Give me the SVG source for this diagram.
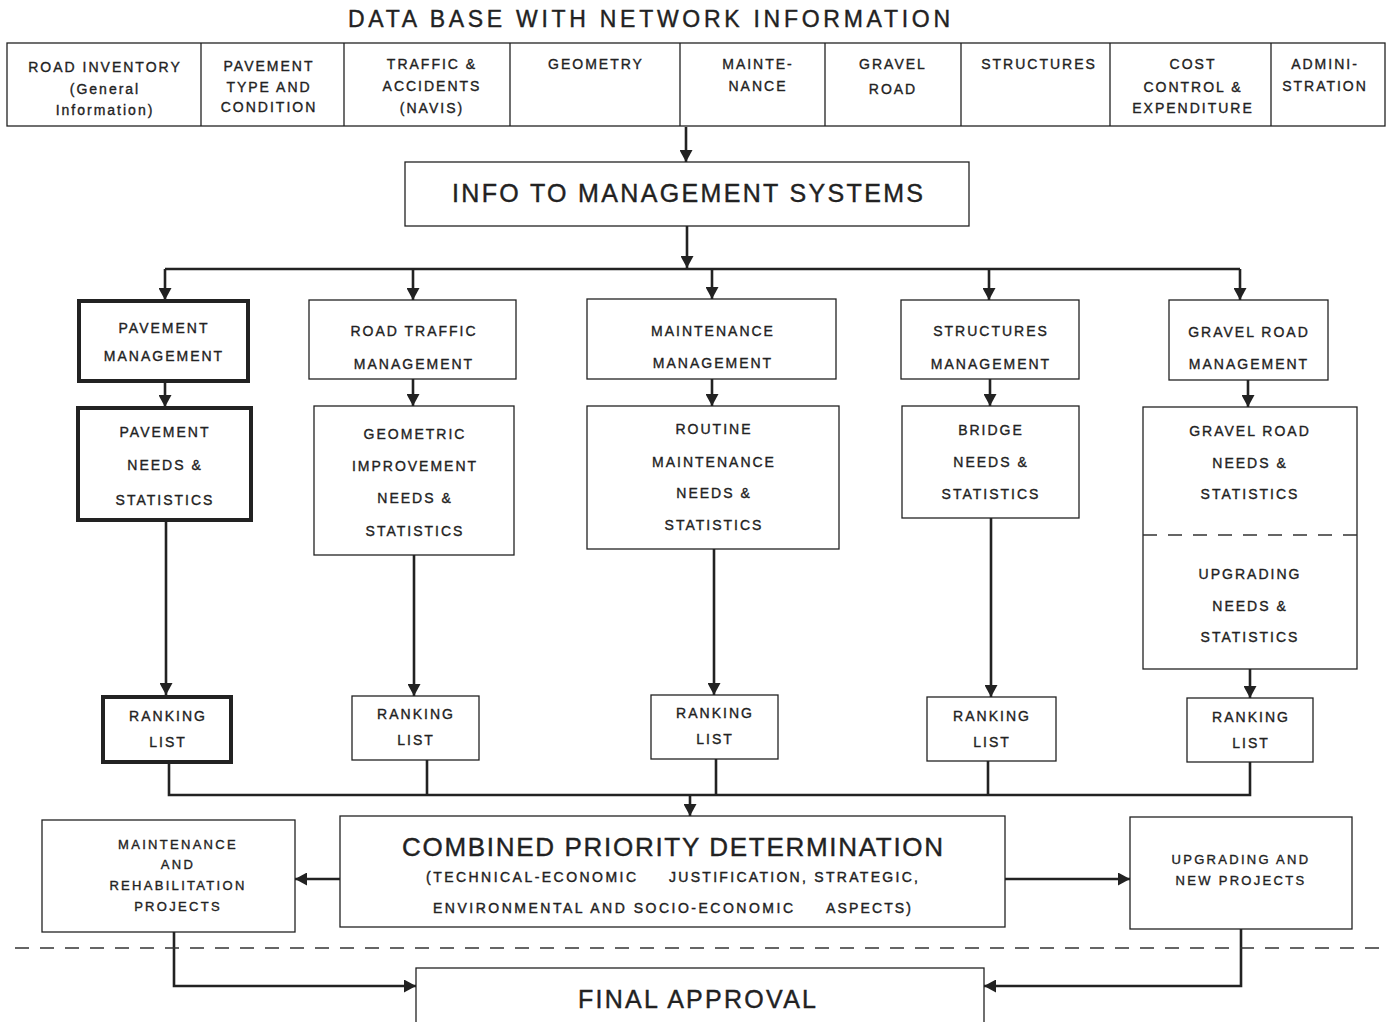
<svg xmlns="http://www.w3.org/2000/svg" width="1391" height="1022" viewBox="0 0 1391 1022">
  <style>
    .box { fill: #fff; stroke: #222; stroke-width: 1.3; }
    .thick { fill: #fff; stroke: #222; stroke-width: 4; }
    .t { font-family: "Liberation Sans", Arial, sans-serif; font-size: 14px; letter-spacing: 2px; fill: #222; stroke: #222; stroke-width: 0.35; text-anchor: middle; }
    .s { font-family: "Liberation Sans", Arial, sans-serif; font-size: 13px; letter-spacing: 2.3px; fill: #222; stroke: #222; stroke-width: 0.35; text-anchor: middle; }
    .big { font-family: "Liberation Sans", Arial, sans-serif; fill: #222; stroke: #222; stroke-width: 0.4; }
    .con { fill: none; stroke: #222; stroke-width: 2.6; }
    .arr { fill: none; stroke: #222; stroke-width: 2.6; marker-end: url(#head); }
    .dash { fill: none; stroke: #333; stroke-width: 1.3; stroke-dasharray: 14 11; }
  </style>
  <defs>
    <marker id="head" markerUnits="userSpaceOnUse" markerWidth="13" markerHeight="13" refX="12" refY="6.5" orient="auto">
      <path d="M0,0 L12,6.5 L0,13 z" fill="#222"/>
    </marker>
  </defs>
  <rect width="1391" height="1022" fill="#fff"/>

  <!-- heading -->
  <text class="big" x="348" y="27" font-size="23" textLength="602" lengthAdjust="spacing">DATA BASE WITH NETWORK INFORMATION</text>

  <!-- database strip -->
  <g id="database">
    <rect class="box" x="7" y="43" width="1378" height="83"/>
    <path d="M201,43 V126 M344,43 V126 M510,43 V126 M680,43 V126 M825,43 V126 M961,43 V126 M1110,43 V126 M1271,43 V126" stroke="#222" stroke-width="1.3" fill="none"/>
    <g id="db-road-inventory">
      <text class="t" x="105" y="72">ROAD INVENTORY</text>
      <text class="t" x="105" y="94">(General</text>
      <text class="t" x="105" y="115">Information)</text>
    </g>
    <g id="db-pavement">
      <text class="t" x="269" y="71">PAVEMENT</text>
      <text class="t" x="269" y="92">TYPE AND</text>
      <text class="t" x="269" y="112">CONDITION</text>
    </g>
    <g id="db-traffic">
      <text class="t" x="432" y="69">TRAFFIC &amp;</text>
      <text class="t" x="432" y="91">ACCIDENTS</text>
      <text class="t" x="432" y="113">(NAVIS)</text>
    </g>
    <g id="db-geometry">
      <text class="t" x="596" y="69">GEOMETRY</text>
    </g>
    <g id="db-maintenance">
      <text class="t" x="758" y="69">MAINTE-</text>
      <text class="t" x="758" y="91">NANCE</text>
    </g>
    <g id="db-gravel">
      <text class="t" x="893" y="69">GRAVEL</text>
      <text class="t" x="893" y="94">ROAD</text>
    </g>
    <g id="db-structures">
      <text class="t" x="1039" y="69">STRUCTURES</text>
    </g>
    <g id="db-cost">
      <text class="t" x="1193" y="69">COST</text>
      <text class="t" x="1193" y="92">CONTROL &amp;</text>
      <text class="t" x="1193" y="113">EXPENDITURE</text>
    </g>
    <g id="db-administration">
      <text class="t" x="1325" y="69">ADMINI-</text>
      <text class="t" x="1325" y="91">STRATION</text>
    </g>
  </g>

  <g id="info">
    <rect class="box" x="405" y="162" width="564" height="64"/>
    <text class="big" x="452" y="202" font-size="25" textLength="471" lengthAdjust="spacing">INFO TO MANAGEMENT SYSTEMS</text>
  </g>

  <!-- management systems -->
  <g id="pavement-management">
    <rect class="thick" x="79" y="301" width="169" height="80"/>
    <text class="t" x="164" y="333">PAVEMENT</text>
    <text class="t" x="164" y="361">MANAGEMENT</text>
  </g>
  <g id="road-traffic-management">
    <rect class="box" x="309" y="300" width="207" height="79"/>
    <text class="t" x="414" y="336">ROAD TRAFFIC</text>
    <text class="t" x="414" y="369">MANAGEMENT</text>
  </g>
  <g id="maintenance-management">
    <rect class="box" x="587" y="299" width="249" height="80"/>
    <text class="t" x="713" y="336">MAINTENANCE</text>
    <text class="t" x="713" y="368">MANAGEMENT</text>
  </g>
  <g id="structures-management">
    <rect class="box" x="901" y="300" width="178" height="79"/>
    <text class="t" x="991" y="336">STRUCTURES</text>
    <text class="t" x="991" y="369">MANAGEMENT</text>
  </g>
  <g id="gravel-road-management">
    <rect class="box" x="1169" y="300" width="159" height="80"/>
    <text class="t" x="1249" y="337">GRAVEL ROAD</text>
    <text class="t" x="1249" y="369">MANAGEMENT</text>
  </g>

  <!-- needs and statistics -->
  <g id="pavement-needs">
    <rect class="thick" x="78" y="408" width="173" height="112"/>
    <text class="t" x="165" y="437">PAVEMENT</text>
    <text class="t" x="165" y="470">NEEDS &amp;</text>
    <text class="t" x="165" y="505">STATISTICS</text>
  </g>
  <g id="geometric-needs">
    <rect class="box" x="314" y="406" width="200" height="149"/>
    <text class="t" x="415" y="439">GEOMETRIC</text>
    <text class="t" x="415" y="471">IMPROVEMENT</text>
    <text class="t" x="415" y="503">NEEDS &amp;</text>
    <text class="t" x="415" y="536">STATISTICS</text>
  </g>
  <g id="routine-needs">
    <rect class="box" x="587" y="406" width="252" height="143"/>
    <text class="t" x="714" y="434">ROUTINE</text>
    <text class="t" x="714" y="467">MAINTENANCE</text>
    <text class="t" x="714" y="498">NEEDS &amp;</text>
    <text class="t" x="714" y="530">STATISTICS</text>
  </g>
  <g id="bridge-needs">
    <rect class="box" x="902" y="406" width="177" height="112"/>
    <text class="t" x="991" y="435">BRIDGE</text>
    <text class="t" x="991" y="467">NEEDS &amp;</text>
    <text class="t" x="991" y="499">STATISTICS</text>
  </g>
  <g id="gravel-needs">
    <rect class="box" x="1143" y="407" width="214" height="262"/>
    <path class="dash" d="M1143,535 H1357"/>
    <text class="t" x="1250" y="436">GRAVEL ROAD</text>
    <text class="t" x="1250" y="468">NEEDS &amp;</text>
    <text class="t" x="1250" y="499">STATISTICS</text>
    <text class="t" x="1250" y="579">UPGRADING</text>
    <text class="t" x="1250" y="611">NEEDS &amp;</text>
    <text class="t" x="1250" y="642">STATISTICS</text>
  </g>

  <!-- ranking lists -->
  <g id="ranking-pavement">
    <rect class="thick" x="103" y="697" width="128" height="65"/>
    <text class="t" x="168" y="721">RANKING</text>
    <text class="t" x="168" y="747">LIST</text>
  </g>
  <g id="ranking-traffic">
    <rect class="box" x="352" y="696" width="127" height="64"/>
    <text class="t" x="416" y="719">RANKING</text>
    <text class="t" x="416" y="745">LIST</text>
  </g>
  <g id="ranking-maintenance">
    <rect class="box" x="651" y="695" width="127" height="64"/>
    <text class="t" x="715" y="718">RANKING</text>
    <text class="t" x="715" y="744">LIST</text>
  </g>
  <g id="ranking-structures">
    <rect class="box" x="927" y="697" width="129" height="64"/>
    <text class="t" x="992" y="721">RANKING</text>
    <text class="t" x="992" y="747">LIST</text>
  </g>
  <g id="ranking-gravel">
    <rect class="box" x="1187" y="698" width="126" height="64"/>
    <text class="t" x="1251" y="722">RANKING</text>
    <text class="t" x="1251" y="748">LIST</text>
  </g>

  <!-- priority determination and outcomes -->
  <g id="combined-priority">
    <rect class="box" x="340" y="816" width="665" height="111"/>
    <text class="big" x="402" y="856" font-size="26" textLength="541" lengthAdjust="spacing">COMBINED PRIORITY DETERMINATION</text>
    <text class="big" x="426" y="882" font-size="14" stroke-width="0.35" textLength="210" lengthAdjust="spacing">(TECHNICAL-ECONOMIC</text>
    <text class="big" x="669" y="882" font-size="14" stroke-width="0.35" textLength="249" lengthAdjust="spacing">JUSTIFICATION, STRATEGIC,</text>
    <text class="big" x="433" y="913" font-size="14" stroke-width="0.35" textLength="360" lengthAdjust="spacing">ENVIRONMENTAL AND SOCIO-ECONOMIC</text>
    <text class="big" x="826" y="913" font-size="14" stroke-width="0.35" textLength="85" lengthAdjust="spacing">ASPECTS)</text>
  </g>
  <g id="maintenance-projects">
    <rect class="box" x="42" y="820" width="253" height="112"/>
    <text class="s" x="178" y="849">MAINTENANCE</text>
    <text class="s" x="178" y="869">AND</text>
    <text class="s" x="178" y="890">REHABILITATION</text>
    <text class="s" x="178" y="911">PROJECTS</text>
  </g>
  <g id="upgrading-projects">
    <rect class="box" x="1130" y="817" width="222" height="112"/>
    <text class="s" x="1241" y="864">UPGRADING AND</text>
    <text class="s" x="1241" y="885">NEW PROJECTS</text>
  </g>
  <g id="final-approval">
    <rect class="box" x="416" y="968" width="568" height="70"/>
    <text class="big" x="578" y="1008" font-size="25" textLength="238" lengthAdjust="spacing">FINAL APPROVAL</text>
  </g>

  <!-- connectors -->
  <g id="connectors">
    <path class="arr" d="M686,127 V162"/>
    <path class="arr" d="M687,226 V268"/>
    <path class="con" d="M165,269 H1240"/>
    <path class="arr" d="M165,269 V300"/>
    <path class="arr" d="M413,269 V300"/>
    <path class="arr" d="M712,269 V299"/>
    <path class="arr" d="M989,269 V300"/>
    <path class="arr" d="M1240,269 V300"/>

    <path class="arr" d="M165,383 V407"/>
    <path class="arr" d="M413,379 V406"/>
    <path class="arr" d="M712,379 V406"/>
    <path class="arr" d="M990,379 V406"/>
    <path class="arr" d="M1248,380 V407"/>

    <path class="arr" d="M166,522 V695"/>
    <path class="arr" d="M414,555 V696"/>
    <path class="arr" d="M714,549 V695"/>
    <path class="arr" d="M991,518 V697"/>
    <path class="arr" d="M1250,669 V698"/>

    <path class="con" d="M169,764 V795 H1250 V762"/>
    <path class="con" d="M427,760 V795"/>
    <path class="con" d="M716,759 V795"/>
    <path class="con" d="M988,761 V795"/>
    <path class="arr" d="M690,795 V816"/>

    <path class="arr" d="M340,879 H295"/>
    <path class="arr" d="M1005,879 H1130"/>

    <path class="arr" d="M174,932 V986 H416"/>
    <path class="arr" d="M1241,929 V986 H984"/>

    <path class="dash" d="M15,948 H1382"/>
  </g>
</svg>
